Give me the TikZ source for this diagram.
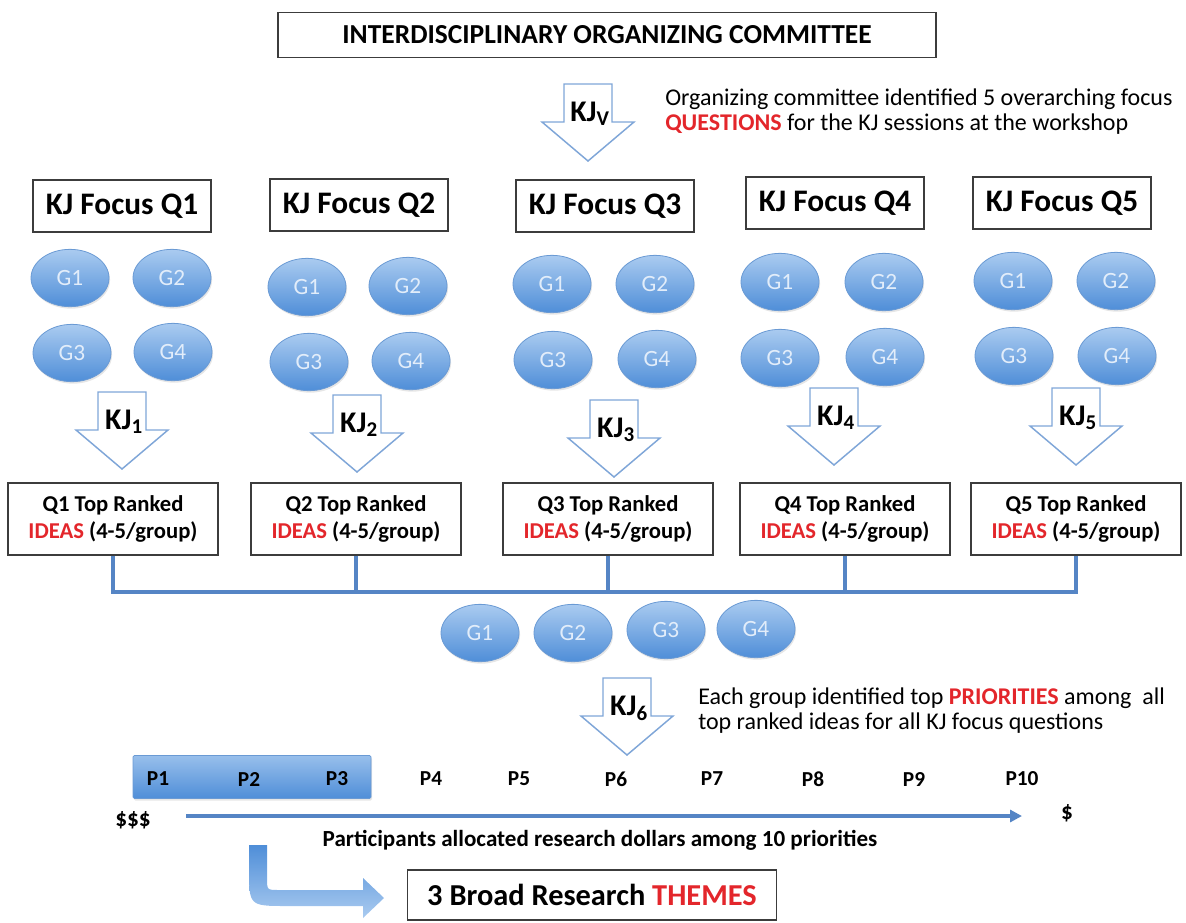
\documentclass[tikz,border=0pt]{standalone}
\usepackage{fontspec}
\setmainfont{Carlito}
\usepackage{tikz}
\usetikzlibrary{arrows.meta}
\usetikzlibrary{shapes.geometric,shadows}

\definecolor{hotred}{HTML}{E3262B}
\definecolor{grplight}{HTML}{AACBF0}
\definecolor{grpdark}{HTML}{4F8ED8}
\definecolor{grpedge}{HTML}{6A9AD4}
\definecolor{grptext}{HTML}{E2EDFA}
\definecolor{linkblue}{HTML}{5585C5}
\definecolor{arrowedge}{HTML}{7FA6D8}
\definecolor{boxedge}{HTML}{3C3C3C}

\tikzset{
	headbox/.style={draw=boxedge,line width=0.9pt,minimum width=493.5pt,minimum height=33.75pt,font=\bfseries\fontsize{20.6}{24}\selectfont},
	focusbox/.style={draw=boxedge,line width=0.9pt,minimum width=133.5pt,minimum height=39pt,font=\bfseries\fontsize{23.5}{28}\selectfont},
	rankbox/.style={draw=boxedge,line width=0.9pt,minimum width=157.5pt,minimum height=54pt,align=center,font=\bfseries\fontsize{17}{20.5}\selectfont},
	grp/.style={ellipse,draw=grpedge,line width=0.6pt,top color=grplight,bottom color=grpdark,minimum width=58.5pt,minimum height=43pt,inner sep=0pt,text=grptext,font=\fontsize{17.5}{20}\selectfont,drop shadow={opacity=0.2,shadow xshift=0.8pt,shadow yshift=-1.5pt}},
	kjarrow/.style={draw=arrowedge,line width=1.1pt,fill=white},
	kjlabel/.style={inner sep=0pt,font=\bfseries\fontsize{22.5}{26}\selectfont},
	note/.style={anchor=west,align=left,inner sep=0pt,font=\fontsize{18}{18.75}\selectfont},
	bus/.style={draw=linkblue,line width=2.8pt},
	plabel/.style={inner sep=0pt,font=\bfseries\fontsize{16}{18}\selectfont}
}

% down arrow with a KJ label: name, centre x, top y, label
\newcommand{\kjdown}[4]{%
	\draw[kjarrow] (#2-24,#3) -- (#2+24,#3) -- (#2+24,#3+38) -- (#2+46,#3+38) -- (#2,#3+77) -- (#2-46,#3+38) -- (#2-24,#3+38) -- cycle;
	\node[kjlabel] (#1) at (#2+2,#3+30) {#4};
}

\begin{document}
\begin{tikzpicture}[x=0.75pt,y=-0.75pt]
		\useasboundingbox (0,0) rectangle (1186,922);

		% committee and focus questions
		\node[headbox] (ioc) at (607,35) {INTERDISCIPLINARY ORGANIZING COMMITTEE};
		\kjdown{kjv}{588}{84}{KJ\textsubscript{V}}
		\node[note] (notev) at (665,112) {Organizing committee identified 5 overarching focus\\\textcolor{hotred}{\textbf{QUESTIONS}} for the KJ sessions at the workshop};

		\node[focusbox] (fq1) at (122,206) {KJ Focus Q1};
		\node[focusbox] (fq2) at (359,205) {KJ Focus Q2};
		\node[focusbox] (fq3) at (605,206) {KJ Focus Q3};
		\node[focusbox] (fq4) at (835,203) {KJ Focus Q4};
		\node[focusbox] (fq5) at (1062,203) {KJ Focus Q5};

		% groups
		\node[grp] (a1) at (70,278) {G1};
		\node[grp] (a2) at (172,278) {G2};
		\node[grp] (a3) at (72,353) {G3};
		\node[grp] (a4) at (173,352) {G4};
		\node[grp] (b1) at (307,287) {G1};
		\node[grp] (b2) at (408,286) {G2};
		\node[grp] (b3) at (309,362) {G3};
		\node[grp] (b4) at (411,361) {G4};
		\node[grp] (c1) at (552,284) {G1};
		\node[grp] (c2) at (655,284) {G2};
		\node[grp] (c3) at (553,360) {G3};
		\node[grp] (c4) at (657,359) {G4};
		\node[grp] (d1) at (780,282) {G1};
		\node[grp] (d2) at (884,282) {G2};
		\node[grp] (d3) at (780,358) {G3};
		\node[grp] (d4) at (885,357) {G4};
		\node[grp] (e1) at (1013,281) {G1};
		\node[grp] (e2) at (1116,281) {G2};
		\node[grp] (e3) at (1014,356) {G3};
		\node[grp] (e4) at (1117,356) {G4};

		\kjdown{kj1}{122}{392}{KJ\textsubscript{1}}
		\kjdown{kj2}{357}{395}{KJ\textsubscript{2}}
		\kjdown{kj3}{614}{400}{KJ\textsubscript{3}}
		\kjdown{kj4}{834}{388}{KJ\textsubscript{4}}
		\kjdown{kj5}{1076}{388}{KJ\textsubscript{5}}

		% top ranked ideas
		\node[rankbox] (rq1) at (113,519) {Q1 Top Ranked\\\textcolor{hotred}{IDEAS} (4-5/group)};
		\node[rankbox] (rq2) at (356,519) {Q2 Top Ranked\\\textcolor{hotred}{IDEAS} (4-5/group)};
		\node[rankbox] (rq3) at (608,519) {Q3 Top Ranked\\\textcolor{hotred}{IDEAS} (4-5/group)};
		\node[rankbox] (rq4) at (845,519) {Q4 Top Ranked\\\textcolor{hotred}{IDEAS} (4-5/group)};
		\node[rankbox] (rq5) at (1076,519) {Q5 Top Ranked\\\textcolor{hotred}{IDEAS} (4-5/group)};

		\coordinate (bus) at (0,592);
		\draw[bus] (rq1.south) |- (rq5.south |- bus) -- (rq5.south);
		\draw[bus] (rq2.south) -- (rq2.south |- bus);
		\draw[bus] (rq3.south) -- (rq3.south |- bus);
		\draw[bus] (rq4.south) -- (rq4.south |- bus);

		\node[grp] (f1) at (480,633) {G1};
		\node[grp] (f2) at (573,633) {G2};
		\node[grp] (f3) at (666,630) {G3};
		\node[grp] (f4) at (756,629) {G4};

		\kjdown{kj6}{627}{678}{KJ\textsubscript{6}}
		\node[note] (notep) at (698,711) {Each group identified top \textcolor{hotred}{\textbf{PRIORITIES}} among~ all\\top ranked ideas for all KJ focus questions};

		% priorities and dollars
		\node[draw=grpedge,line width=0.6pt,top color=grplight!80!grpdark,bottom color=grpdark,rounded corners=1pt,minimum width=178.5pt,minimum height=32.25pt,drop shadow={opacity=0.2,shadow xshift=0.8pt,shadow yshift=-1.5pt}] (pbar) at (252,777) {};
		\node[plabel] (p1) at (158,779) {P1};
		\node[plabel] (p2) at (249,779) {P2};
		\node[plabel] (p3) at (337,779) {P3};
		\node[plabel] (p4) at (431,779) {P4};
		\node[plabel] (p5) at (519,779) {P5};
		\node[plabel] (p6) at (616,779) {P6};
		\node[plabel] (p7) at (712,779) {P7};
		\node[plabel] (p8) at (813,779) {P8};
		\node[plabel] (p9) at (914,779) {P9};
		\node[plabel] (p10) at (1022,779) {P10};

		\node[plabel,font=\bfseries\fontsize{17.5}{20}\selectfont] (big) at (133,820) {\$\$\$};
		\node[plabel,font=\bfseries\fontsize{17.5}{20}\selectfont] (small) at (1067,813) {\$};
		\coordinate (dl) at (186,816);
		\coordinate (dr) at (1022,816);
		\draw[-{Triangle[length=9pt,width=9pt]},draw=linkblue,line width=2.4pt,color=linkblue] (dl) -- (dr);
		\node[plabel,font=\bfseries\fontsize{17.3}{20}\selectfont] (alloc) at (600,840) {Participants allocated research dollars among 10 priorities};

		% themes
		\shade[top color=grpdark,bottom color=grplight] (249,845) -- (249,868) .. controls (249,906) .. (287,906) -- (363,906) -- (363,918) -- (384,898) -- (363,878) -- (363,890) -- (279,890) .. controls (267,890) .. (267,878) -- (267,845) -- cycle;
		\node[draw=boxedge,line width=0.9pt,minimum width=276.75pt,minimum height=37.5pt,font=\bfseries\fontsize{22.8}{26}\selectfont] (themes) at (592,895) {3 Broad Research \textcolor{hotred}{THEMES}};

		\end{tikzpicture}
\end{document}
